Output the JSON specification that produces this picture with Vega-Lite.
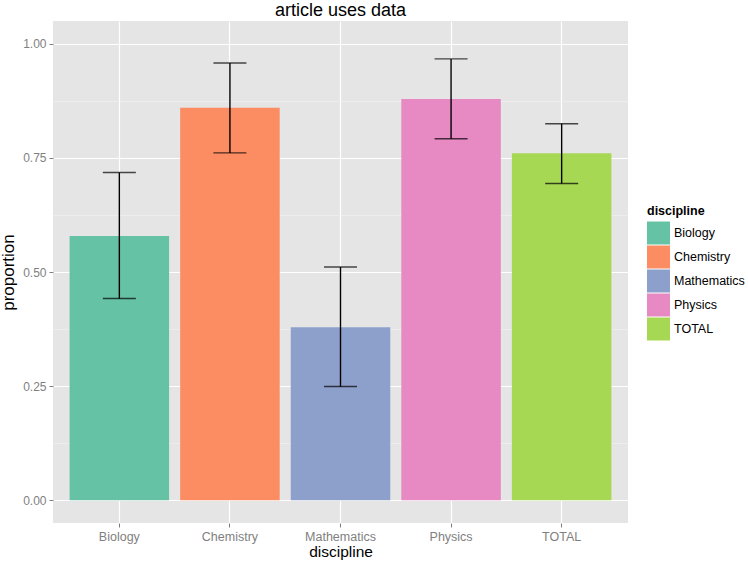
{
  "$schema": "https://vega.github.io/schema/vega-lite/v6.json",
  "width": 575,
  "height": 502,
  "autosize": {"type": "none"},
  "padding": {"left": 53, "top": 21, "right": 120, "bottom": 43},
  "background": "white",
  "config": {
    "font": "Liberation Sans",
    "view": {"fill": "#e5e5e5", "stroke": null}
  },
  "title": {"text": "article uses data", "fontSize": 18, "fontWeight": "normal", "color": "black", "anchor": "middle", "offset": 1},
  "data": {
    "values": [
      {"discipline": "Biology", "proportion": 0.579, "lower": 0.442, "upper": 0.718},
      {"discipline": "Chemistry", "proportion": 0.860, "lower": 0.761, "upper": 0.958},
      {"discipline": "Mathematics", "proportion": 0.379, "lower": 0.249, "upper": 0.511},
      {"discipline": "Physics", "proportion": 0.879, "lower": 0.792, "upper": 0.967},
      {"discipline": "TOTAL", "proportion": 0.760, "lower": 0.694, "upper": 0.825}
    ]
  },
  "encoding": {
    "x": {
      "field": "discipline", "type": "nominal",
      "scale": {"paddingInner": 0.1, "paddingOuter": 0.15},
      "axis": {
        "labelAngle": 0, "labelFontSize": 12.5, "labelColor": "#7f7f7f", "labelPadding": 3,
        "tickColor": "#7f7f7f", "tickSize": 4, "domain": false,
        "grid": true, "gridColor": "white", "gridWidth": 1.2, "bandPosition": 0.5,
        "title": "discipline", "titleFontSize": 15.5, "titleFontWeight": "normal", "titleColor": "black", "titlePadding": 2
      }
    }
  },
  "layer": [
    {
      "mark": {"type": "bar"},
      "encoding": {
        "y": {
          "field": "proportion", "type": "quantitative",
          "scale": {"domain": [-0.05, 1.05], "nice": false, "zero": false},
          "axis": {
            "values": [0, 0.125, 0.25, 0.375, 0.5, 0.625, 0.75, 0.875, 1.0],
            "labelExpr": "datum.value % 0.25 === 0 ? format(datum.value, '.2f') : ''",
            "labelFontSize": 12, "labelColor": "#7f7f7f", "labelPadding": 3,
            "tickSize": 4,
            "tickColor": {"condition": {"test": "datum.value % 0.25 === 0", "value": "#7f7f7f"}, "value": "transparent"},
            "domain": false,
            "grid": true,
            "gridColor": {"condition": {"test": "datum.value % 0.25 === 0", "value": "white"}, "value": "#f2f2f2"},
            "gridWidth": {"condition": {"test": "datum.value % 0.25 === 0", "value": 1.2}, "value": 0.6},
            "title": "proportion", "titleFontSize": 17, "titleFontWeight": "normal", "titleColor": "black", "titlePadding": 5
          }
        },
        "color": {
          "field": "discipline", "type": "nominal",
          "scale": {"range": ["#66c2a5", "#fc8d62", "#8da0cb", "#e78ac3", "#a6d854"]},
          "legend": {
            "orient": "none", "legendX": 594, "legendY": 184,
            "title": "discipline", "titleFontSize": 12.5, "titleFontWeight": "bold", "titleColor": "black", "titlePadding": 4,
            "symbolType": "square", "symbolSize": 529, "symbolStrokeWidth": 0, "symbolOpacity": 1,
            "labelFontSize": 12.5, "labelColor": "black", "labelOffset": 4, "rowPadding": 1
          }
        }
      }
    },
    {
      "mark": {"type": "rule", "color": "black", "strokeWidth": 1.4},
      "encoding": {
        "y": {"field": "lower", "type": "quantitative"},
        "y2": {"field": "upper"}
      }
    },
    {
      "mark": {"type": "tick", "color": "black", "thickness": 1.4, "size": 33, "orient": "horizontal"},
      "encoding": {"y": {"field": "lower", "type": "quantitative"}}
    },
    {
      "mark": {"type": "tick", "color": "black", "thickness": 1.4, "size": 33, "orient": "horizontal"},
      "encoding": {"y": {"field": "upper", "type": "quantitative"}}
    }
  ]
}
